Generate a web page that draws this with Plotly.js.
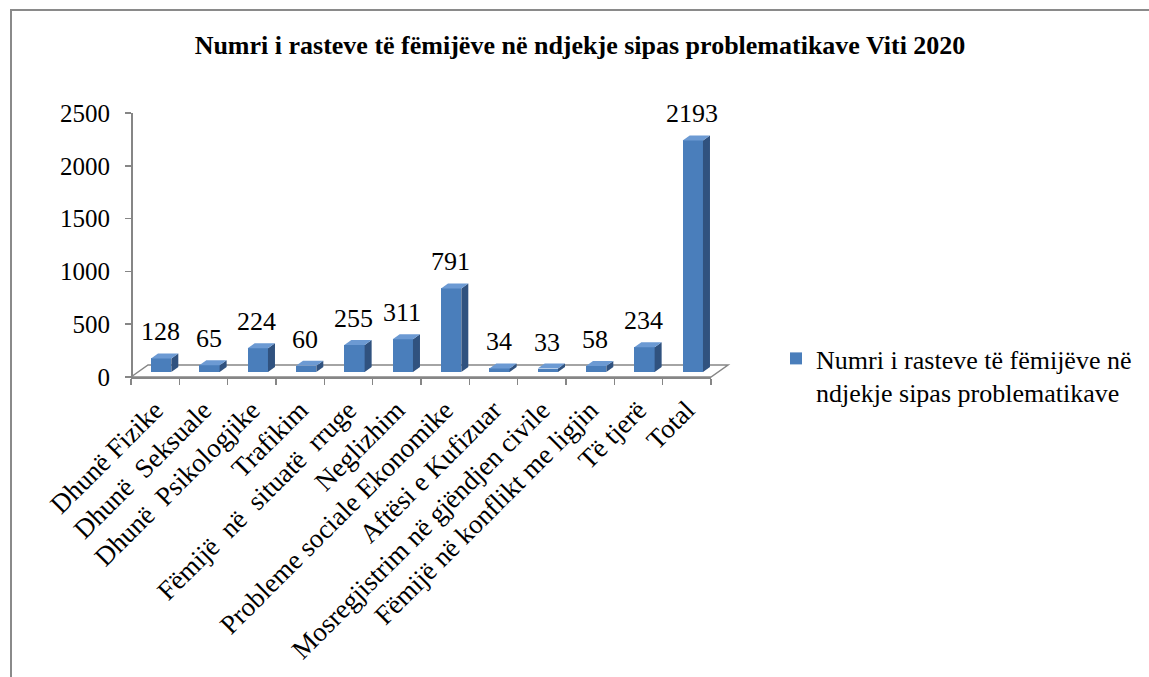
<!DOCTYPE html>
<html>
<head>
<meta charset="utf-8">
<script src="https://cdn.plot.ly/plotly-3.0.1.min.js"></script>
<style>
  html, body { margin: 0; padding: 0; background: #ffffff; }
  #wrap { position: relative; width: 1149px; height: 677px; overflow: hidden; }
  #chart { position: absolute; left: 0; top: 0; width: 1149px; height: 677px; }
  #frame { position: absolute; left: 10px; top: 9px; width: 1200px; height: 800px;
           border-left: 2px solid #8a8a8a; border-top: 2px solid #8a8a8a; pointer-events: none; }
</style>
</head>
<body>
<div id="wrap">
  <div id="chart"></div>
  <div id="frame"></div>
</div>
<script>
// ---- data ----
const chartTitle = "Numri i rasteve të fëmijëve në ndjekje sipas problematikave Viti 2020";
const seriesName = "Numri i rasteve të fëmijëve në<br>ndjekje sipas problematikave";
const categories = [
  "Dhunë Fizike",
  "Dhunë\u00a0 Seksuale",
  "Dhunë\u00a0 Psikologjike",
  "Trafikim",
  "Fëmijë\u00a0 në\u00a0 situatë\u00a0 rruge",
  "Neglizhim",
  "Probleme sociale Ekonomike",
  "Aftësi e Kufizuar",
  "Mosregjistrim në gjëndjen civile",
  "Fëmijë në konflikt me ligjin",
  "Të tjerë",
  "Total"
];
const values = [128, 65, 224, 60, 255, 311, 791, 34, 33, 58, 234, 2193];
const yTickVals = [0, 500, 1000, 1500, 2000, 2500];
const yRange = [0, 2500];

// ---- style ----
const FONT = 'Liberation Serif, Times New Roman, serif';
const W = 1149, H = 677;
const M = { l: 131, r: 438, t: 108, b: 300 };
const plotW = W - M.l - M.r;           // 580
const plotH = H - M.t - M.b;           // 269
const axisH = 264;                     // pixel height of value scale
const barLift = 5;                     // bars sit mid-depth on the floor
const pxPerCat = plotW / categories.length;
const BAR_W = 0.42, BAR_OFF = -0.086;
const DX = 7, DY = 5;                  // bar depth (px)
const FRONT = '#4a7ebb', SIDE = '#30527f', TOP = '#6c9ad3';
const GRAY = '#868686';

const frontL = BAR_OFF * pxPerCat;
const frontR = (BAR_OFF + BAR_W) * pxPerCat;
const dyData = DY * (yRange[1] - yRange[0]) / axisH;

const shapes = [];
// floor
shapes.push({
  type: 'path', xref: 'paper', yref: 'paper', xsizemode: 'pixel', ysizemode: 'pixel',
  xanchor: 0, yanchor: 0,
  path: `M0,0 L17,12 L${plotW + 17},12 L${plotW},0 Z`,
  line: { color: GRAY, width: 1.5 }, fillcolor: 'rgba(0,0,0,0)', layer: 'below'
});
categories.forEach((c, i) => {
  const v = values[i];
  // side face
  shapes.push({
    type: 'path', xref: 'x', yref: 'y', xsizemode: 'pixel', xanchor: c,
    path: `M${frontR},0 L${frontR + DX},${dyData} L${frontR + DX},${v + dyData} L${frontR},${v} Z`,
    fillcolor: SIDE, line: { width: 0 }, layer: 'above'
  });
  // top face
  shapes.push({
    type: 'path', xref: 'x', yref: 'y', xsizemode: 'pixel', ysizemode: 'pixel',
    xanchor: c, yanchor: v,
    path: `M${frontL},0 L${frontR},0 L${frontR + DX},${DY} L${frontL + DX},${DY} Z`,
    fillcolor: TOP, line: { width: 0 }, layer: 'above'
  });
});

const annotations = categories.map((c, i) => ({
  x: c, y: values[i], xref: 'x', yref: 'y', text: String(values[i]),
  showarrow: false, xanchor: 'center', yanchor: 'bottom', xshift: 5, yshift: 10,
  font: { family: FONT, size: 26, color: '#000' }
}));

const traces = [
  {
    type: 'bar', x: categories, y: values, xaxis: 'x', yaxis: 'y',
    name: seriesName,
    width: BAR_W, offset: BAR_OFF,
    marker: { color: FRONT, line: { width: 0 } },
    showlegend: true, hoverinfo: 'skip'
  },
  {
    type: 'scatter', mode: 'markers', x: [], y: [], xaxis: 'x', yaxis: 'y2',
    showlegend: false, hoverinfo: 'skip'
  }
];

const layout = {
  width: W, height: H,
  margin: M,
  paper_bgcolor: '#ffffff', plot_bgcolor: 'rgba(0,0,0,0)',
  font: { family: FONT, color: '#000' },
  showlegend: true,
  title: {
    text: '<b>' + chartTitle + '</b>',
    font: { family: FONT, size: 26, color: '#000' },
    xref: 'container', yref: 'container', x: 580 / W, xanchor: 'center',
    y: 1 - 45 / H, yanchor: 'middle'
  },
  xaxis: {
    type: 'category', range: [-0.5, categories.length - 0.5],
    anchor: 'free', position: 0,
    showline: true, linecolor: GRAY, linewidth: 1.5,
    ticks: 'outside', tickson: 'boundaries', ticklen: 6, tickcolor: GRAY, tickwidth: 1.5,
    ticklabelstandoff: 5,
    tickangle: -45, tickfont: { family: FONT, size: 27, color: '#000' },
    showgrid: false, zeroline: false, fixedrange: true
  },
  yaxis: {
    range: yRange, domain: [barLift / plotH, Math.min(1, (barLift + axisH) / plotH)],
    visible: false, fixedrange: true
  },
  yaxis2: {
    range: yRange, domain: [0, axisH / plotH],
    anchor: 'free', position: 0,
    tickvals: yTickVals, ticktext: yTickVals.map(String),
    showline: true, linecolor: GRAY, linewidth: 1.5,
    ticks: 'outside', ticklen: 6, tickcolor: GRAY, tickwidth: 1.5,
    ticklabelstandoff: 10,
    tickfont: { family: FONT, size: 25, color: '#000' },
    showgrid: false, zeroline: false, fixedrange: true
  },
  legend: {
    x: (776 - M.l) / plotW, xanchor: 'left',
    y: (H - M.b - 335) / plotH, yanchor: 'top',
    valign: 'top', itemwidth: 30,
    font: { family: FONT, size: 26, color: '#000' },
    bgcolor: 'rgba(0,0,0,0)', borderwidth: 0
  },
  shapes: shapes,
  annotations: annotations,
  bargap: 0
};

Plotly.newPlot('chart', traces, layout, { displayModeBar: false, staticPlot: true });
</script>
</body>
</html>
